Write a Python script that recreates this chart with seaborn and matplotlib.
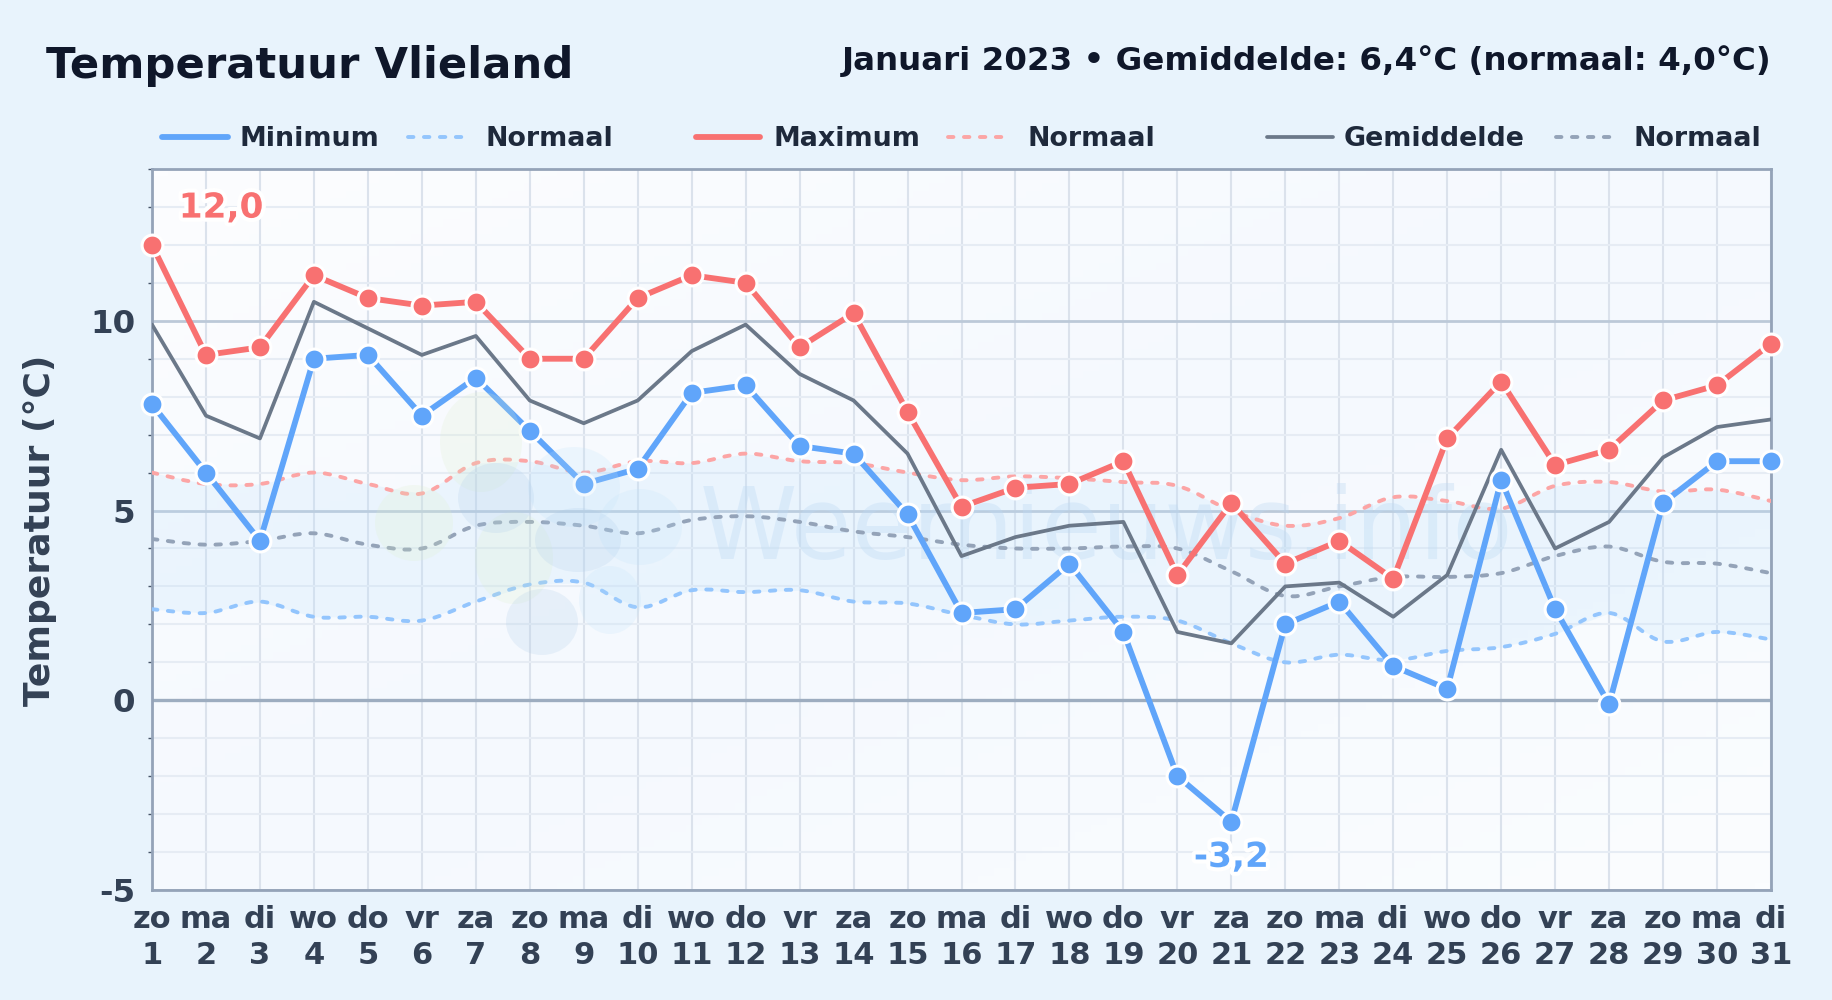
import numpy as np
import pandas as pd
import matplotlib
matplotlib.use('Agg')
import matplotlib.pyplot as plt
import matplotlib.patheffects as pe
from matplotlib.colors import LinearSegmentedColormap
from matplotlib.lines import Line2D
from matplotlib.patches import Ellipse, PathPatch
from matplotlib.path import Path
import seaborn as sns

days = list(range(1, 32))
weekdays = ['zo', 'ma', 'di', 'wo', 'do', 'vr', 'za'] * 4 + ['zo', 'ma', 'di']

t_min = [7.8, 6.0, 4.2, 9.0, 9.1, 7.5, 8.5, 7.1, 5.7, 6.1, 8.1, 8.3, 6.7, 6.5, 4.9, 2.3,
         2.4, 3.6, 1.8, -2.0, -3.2, 2.0, 2.6, 0.9, 0.3, 5.8, 2.4, -0.1, 5.2, 6.3, 6.3]
t_max = [12.0, 9.1, 9.3, 11.2, 10.6, 10.4, 10.5, 9.0, 9.0, 10.6, 11.2, 11.0, 9.3, 10.2, 7.6, 5.1,
         5.6, 5.7, 6.3, 3.3, 5.2, 3.6, 4.2, 3.2, 6.9, 8.4, 6.2, 6.6, 7.9, 8.3, 9.4]
t_avg = [9.9, 7.5, 6.9, 10.5, 9.8, 9.1, 9.6, 7.9, 7.3, 7.9, 9.2, 9.9, 8.6, 7.9, 6.5, 3.8,
         4.3, 4.6, 4.7, 1.8, 1.5, 3.0, 3.1, 2.2, 3.3, 6.6, 4.0, 4.7, 6.4, 7.2, 7.4]
norm_min = [2.4, 2.3, 2.6, 2.2, 2.2, 2.1, 2.6, 3.05, 3.1, 2.45, 2.9, 2.85, 2.9, 2.6, 2.55, 2.25,
            2.0, 2.1, 2.2, 2.1, 1.5, 1.0, 1.2, 1.05, 1.3, 1.4, 1.75, 2.3, 1.55, 1.8, 1.6]
norm_max = [6.0, 5.7, 5.7, 6.0, 5.7, 5.45, 6.25, 6.3, 6.0, 6.3, 6.25, 6.5, 6.3, 6.25, 6.0, 5.8,
            5.9, 5.85, 5.75, 5.65, 5.0, 4.6, 4.8, 5.35, 5.25, 5.05, 5.65, 5.75, 5.5, 5.55, 5.25]
norm_avg = [4.25, 4.1, 4.2, 4.4, 4.1, 4.0, 4.6, 4.7, 4.6, 4.4, 4.75, 4.85, 4.7, 4.45, 4.3, 4.1,
            4.0, 4.0, 4.05, 4.0, 3.4, 2.75, 3.0, 3.25, 3.25, 3.35, 3.8, 4.05, 3.65, 3.6, 3.35]

BLUE = '#60a5fa'
RED = '#f87171'
SLATE = '#6b7889'
INK = '#0f172a'
LABEL = '#334155'
BG = '#e8f3fc'
DASH = (0, (1.4, 2.7))
NORM_BLUE = '#93c5fd'
NORM_RED = '#fca5a5'
NORM_GREY = '#94a3b8'

W, H = 1832, 1000


def px(x, y):
    return x / W, 1 - y / H


def smooth_line(ax, xs, ys, color, tension=0.17):
    # dashed normal lines are slightly curved through the daily values
    pts = np.column_stack([xs, ys]).astype(float)
    verts = [pts[0]]
    codes = [Path.MOVETO]
    for i in range(len(pts) - 1):
        before = pts[max(i - 1, 0)]
        after = pts[min(i + 2, len(pts) - 1)]
        verts += [pts[i] + (pts[i + 1] - before) * tension,
                  pts[i + 1] - (after - pts[i]) * tension,
                  pts[i + 1]]
        codes += [Path.CURVE4] * 3
    ax.add_patch(PathPatch(Path(verts, codes), fill=False, edgecolor=color, linewidth=2.8,
                           linestyle=DASH, capstyle='round', zorder=3))


sns.set_theme(style='white')
plt.rcParams['font.family'] = ['DejaVu Sans']

fig = plt.figure(figsize=(W / 100, H / 100), dpi=100, facecolor=BG)
ax = fig.add_axes([152 / W, 1 - 890 / H, (1771 - 152) / W, (890 - 169) / H])
ax.set_xlim(1, 31)
ax.set_ylim(-5, 14)
ax.set_facecolor('#f8fbff')

# soft background of the plot area
cmap = LinearSegmentedColormap.from_list('plotbg', ['#fcfdff', '#f5f9fe', '#fbfdff'])
gx, gy = np.meshgrid(np.linspace(0, 1, 200), np.linspace(0, 1, 100))
ax.imshow(0.5 * gx + 0.5 * gy, extent=(1, 31, -5, 14), origin='upper', aspect='auto', cmap=cmap, zorder=0)

# grid
ax.set_xticks(days)
ax.set_xticklabels([f'{w}\n{d}' for w, d in zip(weekdays, days)], fontsize=22, fontweight='bold',
                   color=LABEL, linespacing=1.29)
ax.set_yticks([-5, 0, 5, 10])
ax.set_yticklabels(['-5', '0', '5', '10'], fontsize=23.4, fontweight='bold', color=LABEL)
ax.set_yticks([y for y in range(-5, 15) if y % 5 != 0], minor=True)
ax.tick_params(axis='x', length=0, pad=11)
ax.tick_params(axis='y', which='major', length=0, pad=12)
ax.tick_params(axis='y', which='minor', length=3, width=1, color='#475569', left=True)
ax.grid(axis='x', color='#dbe2ec', linewidth=1.5, zorder=1)
ax.grid(axis='y', which='minor', color='#e6ecf4', linewidth=1.5, zorder=1)
ax.grid(axis='y', which='major', color='#bcc9d8', linewidth=2.0, zorder=1)
ax.axhline(0, color='#9dadc0', linewidth=2.4, zorder=1.5)
ax.set_axisbelow(True)
for side in ax.spines.values():
    side.set_color('#94a3b8')
    side.set_linewidth(2.0)

# watermark logo and name
blobs = [(481, 442, 82, 100, '#dcefc8'), (414, 523, 78, 76, '#dcefc8'), (514, 558, 78, 92, '#dcefc8'),
         (574, 487, 92, 80, '#bfe3fb'), (640, 527, 84, 76, '#bfe3fb'), (610, 600, 62, 68, '#bfe3fb'),
         (496, 498, 76, 70, '#a9c9e8'), (578, 540, 86, 64, '#a9c9e8'), (542, 622, 72, 66, '#a9c9e8')]
for bx, by, bw, bh, col in blobs:
    cx, cy = px(bx, by)
    fig.add_artist(Ellipse((cx, cy), bw / W, bh / H, transform=fig.transFigure, facecolor=col,
                           edgecolor='none', alpha=0.2, zorder=1.2))
ax.text(0.338, 0.497, 'Weernieuws.info', transform=ax.transAxes, fontsize=71, color='#bcd8f2',
        alpha=0.35, ha='left', va='center', zorder=1.3)

# band between the normal minimum and maximum
ax.fill_between(days, norm_min, norm_max, color='#bae0fd', alpha=0.2, linewidth=0, zorder=2)

df = pd.DataFrame({'dag': days, 'min': t_min, 'max': t_max, 'gem': t_avg})

smooth_line(ax, days, norm_min, NORM_BLUE)
smooth_line(ax, days, norm_max, NORM_RED)
smooth_line(ax, days, norm_avg, NORM_GREY)

sns.lineplot(data=df, x='dag', y='gem', ax=ax, color=SLATE, linewidth=2.7, zorder=4)
sns.lineplot(data=df, x='dag', y='min', ax=ax, color=BLUE, linewidth=4.2, marker='o', markersize=15,
             markeredgecolor='white', markeredgewidth=2.2, clip_on=False, zorder=5)
sns.lineplot(data=df, x='dag', y='max', ax=ax, color=RED, linewidth=4.2, marker='o', markersize=15,
             markeredgecolor='white', markeredgewidth=2.2, clip_on=False, zorder=6)

halo = [pe.withStroke(linewidth=6, foreground='white')]
ax.text(2.28, 12.97, f'{max(t_max):.1f}'.replace('.', ','), fontsize=24.7, fontweight='bold', color=RED,
        ha='center', va='center', path_effects=halo, zorder=7)
ax.text(21, -4.14, f'{min(t_min):.1f}'.replace('.', ','), fontsize=24.7, fontweight='bold', color=BLUE,
        ha='center', va='center', path_effects=halo, zorder=7)

ax.set_xlabel('')
ax.set_ylabel('')
tx, ty = px(40, 530)
fig.text(tx, ty, 'Temperatuur (°C)', rotation=90, fontsize=26, fontweight='bold', color=LABEL,
         ha='center', va='center')

tx, ty = px(46, 66)
fig.text(tx, ty, 'Temperatuur Vlieland', fontsize=31.2, fontweight='bold', color=INK, ha='left', va='center')
tx, ty = px(1771, 61)
fig.text(tx, ty, 'Januari 2023 • Gemiddelde: 6,4°C (normaal: 4,0°C)', fontsize=23.4, fontweight='bold',
         color=INK, ha='right', va='center')

# legend, spaced by hand like the original
legend_items = [
    (162, 228, 240, 'Minimum', BLUE, 4.2, '-'),
    (408, 463, 486, 'Normaal', NORM_BLUE, 2.8, DASH),
    (696, 760, 773, 'Maximum', RED, 4.2, '-'),
    (948, 1003, 1027, 'Normaal', NORM_RED, 2.8, DASH),
    (1267, 1333, 1344, 'Gemiddelde', SLATE, 2.7, '-'),
    (1556, 1618, 1633, 'Normaal', NORM_GREY, 2.8, DASH),
]
for x0, x1, xt, name, col, lw, ls in legend_items:
    a = px(x0, 137)
    b = px(x1, 137)
    fig.add_artist(Line2D([a[0], b[0]], [a[1], b[1]], color=col, linewidth=lw, linestyle=ls,
                          solid_capstyle='round', dash_capstyle='round', transform=fig.transFigure))
    tx, ty = px(xt, 138.5)
    fig.text(tx, ty, name, fontsize=19.4, fontweight='bold', color='#1e293b', ha='left', va='center')

fig.savefig('out.png', dpi=100, facecolor=BG)
